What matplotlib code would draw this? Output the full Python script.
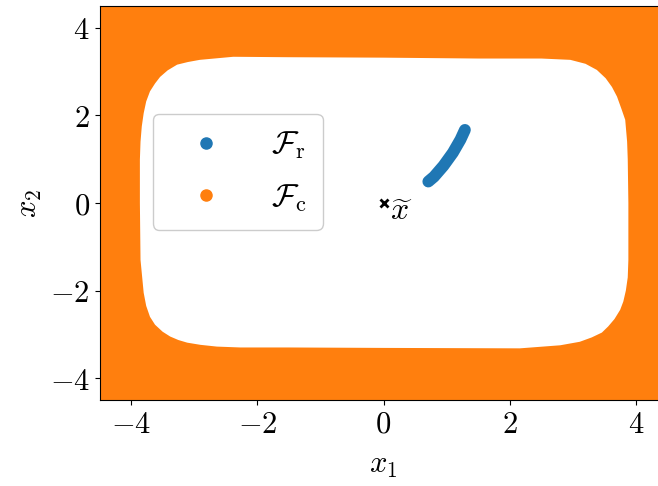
import matplotlib
matplotlib.use("Agg")
import matplotlib.pyplot as plt
from matplotlib.lines import Line2D

plt.rcParams['mathtext.fontset'] = 'cm'

# Boundary of the white (feasible) region (clockwise)
bound_x = [-2.38, -1.5, 0.0, 1.5, 2.5, 2.96, 3.20, 3.38, 3.52, 3.62, 3.70, 3.77,
           3.83, 3.86, 3.87, 3.88, 3.88, 3.87, 3.84, 3.80, 3.75, 3.66, 3.56, 3.46,
           3.30, 3.11, 2.80, 2.16, 0.0, -1.5, -2.27, -2.64, -2.90, -3.11, -3.25,
           -3.38, -3.50, -3.62, -3.70, -3.76, -3.80, -3.85, -3.86, -3.86, -3.85,
           -3.83, -3.80, -3.76, -3.70, -3.62, -3.54, -3.42, -3.27, -3.10, -2.91]
bound_y = [3.34, 3.33, 3.32, 3.30, 3.30, 3.27, 3.18, 3.04, 2.85, 2.65, 2.43, 2.15,
           1.90, 1.40, 1.00, 0.00, -1.30, -1.70, -2.00, -2.25, -2.44, -2.65, -2.82,
           -2.96, -3.07, -3.17, -3.25, -3.32, -3.31, -3.30, -3.30, -3.28, -3.24,
           -3.19, -3.13, -3.05, -2.94, -2.78, -2.60, -2.35, -2.05, -1.30, 0.00,
           0.99, 1.40, 1.75, 2.05, 2.32, 2.55, 2.73, 2.88, 3.03, 3.16, 3.22, 3.27]

# Centre line of the blue band F_r
band_x = [0.71, 0.80, 0.95, 1.10, 1.22, 1.29]
band_y = [0.49, 0.60, 0.85, 1.15, 1.45, 1.67]

xt_x, xt_y = [0.0], [0.0]

xticks = [-4, -2, 0, 2, 4]
yticks = [-4, -2, 0, 2, 4]

blue = '#1f77b4'
orange = '#ff7f0e'

fig = plt.figure(figsize=(6.58, 4.86), dpi=100)
ax = fig.add_axes([99.5/658, 86/486, 568/658, 394/486])
ax.set_facecolor(orange)
ax.fill(bound_x, bound_y, color='white', lw=0)
ax.plot(band_x, band_y, color=blue, lw=8.5, solid_capstyle='round',
        solid_joinstyle='round')
ax.plot(xt_x, xt_y, 'x', color='black', ms=6, mew=2)
ax.text(xt_x[0] + 0.1, xt_y[0] - 0.2, r'$\widetilde{x}$', fontsize=23,
        ha='left', va='center')

ax.set_xlim(-4.5, 4.5)
ax.set_ylim(-4.5, 4.5)
ax.set_xticks(xticks)
ax.set_xticklabels([f'${t}$' for t in xticks])
ax.set_yticks(yticks)
ax.set_yticklabels([f'${t}$' for t in yticks])
ax.tick_params(labelsize=22)
ax.set_xlabel(r'$x_1$', fontsize=22, labelpad=9)
ax.set_ylabel(r'$x_2$', fontsize=22)

handles = [Line2D([], [], ls='', marker='o', color=blue, ms=8),
           Line2D([], [], ls='', marker='o', color=orange, ms=8)]
ax.legend(handles, [r'$\mathcal{F}_\mathrm{r}$', r'$\mathcal{F}_\mathrm{c}$'],
          loc='upper left', bbox_to_anchor=(0.094, 0.726), fontsize=23,
          handlelength=2.3, handletextpad=0.9, labelspacing=0.66, borderpad=0.5,
          framealpha=1, borderaxespad=0)

fig.savefig('out.png', dpi=100)
